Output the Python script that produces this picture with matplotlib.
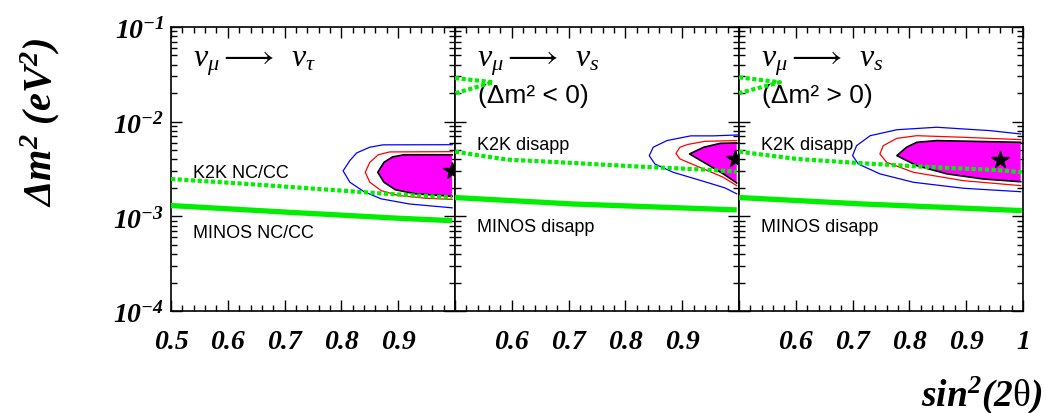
import matplotlib
matplotlib.use('Agg')
import matplotlib.pyplot as plt
from matplotlib.ticker import FixedLocator, MultipleLocator, LogLocator, NullFormatter, FixedFormatter

plt.rcParams['mathtext.fontset'] = 'custom'
plt.rcParams['mathtext.rm'] = 'Liberation Serif'
plt.rcParams['mathtext.it'] = 'Liberation Serif:italic'
plt.rcParams['mathtext.bf'] = 'Liberation Serif:italic:bold'
plt.rcParams['mathtext.fallback'] = 'stix'

# ---- data ----
titles = [r'$\nu_{\mu}\longrightarrow\;\;\nu_{\tau}$',
          r'$\nu_{\mu}\longrightarrow\;\;\nu_{s}$',
          r'$\nu_{\mu}\longrightarrow\;\;\nu_{s}$']
subtitles = ['', '(Δm² < 0)', '(Δm² > 0)']
k2k_labels = ['K2K NC/CC', 'K2K disapp', 'K2K disapp']
minos_labels = ['MINOS NC/CC', 'MINOS disapp', 'MINOS disapp']

# K2K limits (dotted)
k2k_x = [[0.5, 0.639, 0.757, 0.873, 0.995],
         [0.5, 0.591, 0.708, 0.826, 0.943, 0.996],
         [0.5, 0.602, 0.719, 0.836, 0.954, 0.998]]
k2k_y = [[2.48e-3, 2.19e-3, 1.95e-3, 1.74e-3, 1.58e-3],
         [4.82e-3, 3.98e-3, 3.66e-3, 3.35e-3, 3.11e-3, 2.96e-3],
         [4.82e-3, 4.04e-3, 3.63e-3, 3.31e-3, 3.09e-3, 2.92e-3]]
k2k_lobe_x = [[], [0.5, 0.567, 0.5], [0.5, 0.572, 0.5]]
k2k_lobe_y = [[], [2.89e-2, 2.61e-2, 1.99e-2], [2.94e-2, 2.61e-2, 2.0e-2]]

# MINOS limits (solid)
minos_x = [[0.5, 0.7, 0.9, 0.995],
           [0.5, 0.708, 0.996],
           [0.5, 0.719, 0.998]]
minos_y = [[1.30e-3, 1.11e-3, 0.955e-3, 0.90e-3],
           [1.58e-3, 1.35e-3, 1.17e-3],
           [1.58e-3, 1.35e-3, 1.15e-3]]

# allowed regions: outer (blue), middle (red), inner (filled)
blue_x = [[0.995, 0.873, 0.85, 0.827, 0.815, 0.803, 0.815, 0.84, 0.87, 0.92, 0.995],
          [0.998, 0.955, 0.915, 0.873, 0.849, 0.842, 0.852, 0.884, 0.943, 0.975, 0.996],
          [0.996, 0.942, 0.848, 0.778, 0.731, 0.707, 0.70, 0.71, 0.748, 0.807, 0.895, 0.996]]
blue_y = [[5.71e-3, 5.69e-3, 5.37e-3, 4.68e-3, 3.89e-3, 3.02e-3, 2.29e-3, 1.82e-3, 1.53e-3, 1.35e-3, 1.23e-3],
          [7.24e-3, 7.08e-3, 7.08e-3, 6.31e-3, 5.37e-3, 4.37e-3, 3.57e-3, 2.92e-3, 2.29e-3, 2.0e-3, 1.73e-3],
          [7.41e-3, 8.04e-3, 8.73e-3, 8.22e-3, 7.11e-3, 5.58e-3, 4.38e-3, 3.57e-3, 2.81e-3, 2.29e-3, 1.98e-3, 1.82e-3]]
red_x = [[0.995, 0.885, 0.865, 0.85, 0.842, 0.85, 0.87, 0.90, 0.95, 0.995],
         [0.996, 0.94, 0.91, 0.896, 0.889, 0.896, 0.938, 0.972, 0.996],
         [0.996, 0.895, 0.813, 0.778, 0.754, 0.748, 0.76, 0.807, 0.895, 0.996]]
red_y = [[4.82e-3, 4.79e-3, 4.47e-3, 3.72e-3, 2.92e-3, 2.29e-3, 1.87e-3, 1.66e-3, 1.55e-3, 1.51e-3],
         [6.31e-3, 6.2e-3, 5.75e-3, 5.37e-3, 4.63e-3, 4.04e-3, 3.16e-3, 2.59e-3, 2.11e-3],
         [6.46e-3, 6.84e-3, 7.11e-3, 6.67e-3, 5.58e-3, 4.56e-3, 3.72e-3, 2.92e-3, 2.38e-3, 2.11e-3]]
best_x = [[0.995, 0.91, 0.89, 0.875, 0.864, 0.875, 0.895, 0.93, 0.995],
          [0.996, 0.967, 0.938, 0.913, 0.938, 0.972, 0.996],
          [0.996, 0.848, 0.813, 0.795, 0.778, 0.813, 0.866, 0.93, 0.996]]
best_y = [[4.47e-3, 4.47e-3, 4.24e-3, 3.72e-3, 2.92e-3, 2.29e-3, 1.91e-3, 1.73e-3, 1.63e-3],
          [5.96e-3, 5.9e-3, 5.37e-3, 4.56e-3, 3.72e-3, 2.82e-3, 2.25e-3],
          [6.05e-3, 6.31e-3, 6.05e-3, 5.37e-3, 4.38e-3, 3.43e-3, 2.81e-3, 2.48e-3, 2.32e-3]]

star_x = [0.995, 0.993, 0.96]
star_y = [3.0e-3, 4.04e-3, 3.94e-3]

x_ticks = [0.5, 0.6, 0.7, 0.8, 0.9, 1.0]
x_ticklabels = [['0.5', '0.6', '0.7', '0.8', '0.9', ''],
                ['', '0.6', '0.7', '0.8', '0.9', ''],
                ['', '0.6', '0.7', '0.8', '0.9', '1']]
y_ticks = [1e-4, 1e-3, 1e-2, 1e-1]
y_ticklabels = [r'$\mathbf{10^{-4}}$', r'$\mathbf{10^{-3}}$', r'$\mathbf{10^{-2}}$', r'$\mathbf{10^{-1}}$']

green = '#00ee00'

fig = plt.figure(figsize=(10.46, 4.14), dpi=100)
W, H = 1046.0, 414.0
left0, top, pw, ph = 171, 28, 284, 284

for i in range(3):
    ax = fig.add_axes([(left0 + i * pw) / W, 1 - (top + ph) / H, pw / W, ph / H])
    ax.set_yscale('log')
    ax.set_xlim(0.5, 1.0)
    ax.set_ylim(1e-4, 1e-1)

    ax.fill(best_x[i], best_y[i], color='#ff00ff', lw=0, zorder=2)
    ax.plot(best_x[i], best_y[i], color='black', lw=1.2, zorder=3)
    ax.plot(red_x[i], red_y[i], color='#ff0000', lw=0.9, zorder=3)
    ax.plot(blue_x[i], blue_y[i], color='#0000ff', lw=0.9, zorder=3)

    ax.plot(minos_x[i], minos_y[i], color=green, lw=3.8, solid_capstyle='butt', zorder=4)
    ax.plot(k2k_x[i], k2k_y[i], color=green, lw=3.0, ls=(0, (1.0, 0.6)), zorder=4)
    if k2k_lobe_x[i]:
        ax.plot(k2k_lobe_x[i], k2k_lobe_y[i], color=green, lw=3.0, ls=(0, (1.0, 0.6)), zorder=4)

    ax.plot([star_x[i]], [star_y[i]], marker='*', color='black', ms=13, clip_on=False, zorder=6)

    ax.text(0.077, 0.877, titles[i], transform=ax.transAxes, fontsize=23, va='center', ha='left')
    if subtitles[i]:
        ax.text(0.08, 0.762, subtitles[i], transform=ax.transAxes, fontsize=19,
                family='Liberation Sans', va='center', ha='left')
    k2k_y_pos = 0.489 if i == 0 else 0.588
    minos_y_pos = 0.275 if i == 0 else 0.296
    ax.text(0.077, k2k_y_pos, k2k_labels[i], transform=ax.transAxes, fontsize=13,
            family='Liberation Sans', va='center', ha='left')
    ax.text(0.077, minos_y_pos, minos_labels[i], transform=ax.transAxes, fontsize=13,
            family='Liberation Sans', va='center', ha='left')

    ax.xaxis.set_major_locator(FixedLocator(x_ticks))
    ax.xaxis.set_major_formatter(FixedFormatter(x_ticklabels[i]))
    ax.xaxis.set_minor_locator(MultipleLocator(0.02))
    ax.yaxis.set_major_locator(FixedLocator(y_ticks))
    ax.yaxis.set_minor_locator(LogLocator(base=10, subs=range(2, 10)))
    ax.yaxis.set_minor_formatter(NullFormatter())
    if i == 0:
        ax.yaxis.set_major_formatter(FixedFormatter(y_ticklabels))
    else:
        ax.yaxis.set_major_formatter(NullFormatter())

    ax.tick_params(which='both', direction='in', top=True, right=True, width=1.0)
    ax.tick_params(which='major', length=8)
    ax.tick_params(which='minor', length=4)
    ax.tick_params(axis='x', which='major', pad=13)
    ax.tick_params(axis='y', which='major', pad=5)
    for lab in ax.get_xticklabels():
        lab.set_fontfamily('Liberation Serif')
        lab.set_fontstyle('italic')
        lab.set_fontweight('bold')
        lab.set_fontsize(20)
    for lab in ax.get_yticklabels():
        lab.set_fontsize(20)
    for sp in ax.spines.values():
        sp.set_linewidth(1.2)

fig.text(0.038, 0.705, r'$\mathbf{\Delta m^{2}\ (eV^{2})}$', rotation=90, fontsize=29,
         ha='center', va='center')
fig.text(0.997, 0.045, r'$\mathbf{sin^{2}(2}\mathrm{\theta}\mathbf{)}$', fontsize=27,
         ha='right', va='center')

fig.savefig('out.png', dpi=100)
